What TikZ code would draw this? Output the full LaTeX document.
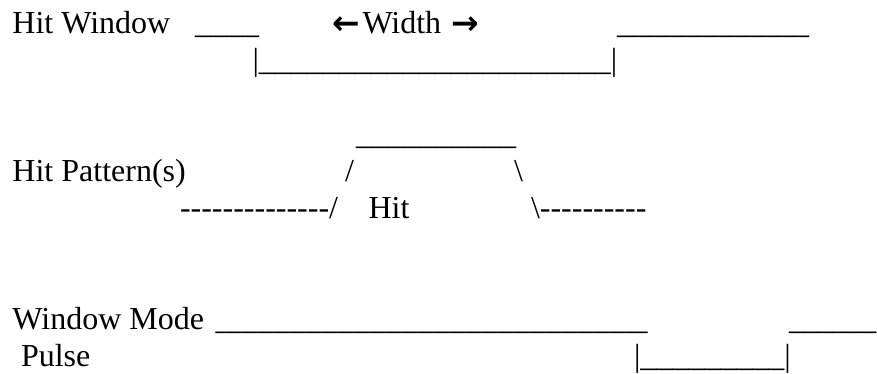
\documentclass[tikz,border=0pt]{standalone}
\usepackage{fontspec}
\setmainfont{Liberation Serif}
\newfontfamily\arrowfont{DejaVu Sans}
% repeat a glyph n times (braces keep hyphens from forming dashes)
\newcommand\reps[2]{\foreach\k in {1,...,#1}{#2}}
\begin{document}
\begin{tikzpicture}[x=1pt,y=-1pt,
  txt/.style={anchor=base west,inner sep=0pt,outer sep=0pt,
    font=\fontsize{32}{36.8}\selectfont},
  arr/.style={txt,font=\fontsize{33}{36.8}\arrowfont\bfseries}]
\useasboundingbox (0,0) rectangle (877,373);
% --- hit window row ---
\node[txt] (hitwin)  at (12.5,33) {Hit Window};
\node[txt] (winlowA) at (195,33)  {\reps{4}{\_}};
\node[arr] (larrow)  at (332,34) {←};
\node[txt] (widthtx) at (362.5,33) {Width};
\node[arr] (rarrow)  at (451.5,34) {→};
\node[txt] (winlowB) at (617,33)  {\reps{12}{\_}};
\node[txt] (winopen) at (252.5,70) {|\reps{22}{\_}|};
% --- hit pattern row ---
\node[txt] (hittop)  at (356,144) {\reps{10}{\_}};
\node[txt] (hitpat)  at (12.5,181) {Hit Pattern(s)};
\node[txt] (riseA)   at (345,181) {/};
\node[txt] (fallA)   at (514,181) {\textbackslash};
\node[txt] (baseL)   at (180,218) {\reps{14}{{-}}/};
\node[txt] (hitlbl)  at (368.5,218) {Hit};
\node[txt] (baseR)   at (531,218) {\textbackslash\reps{10}{{-}}};
% --- window mode pulse row ---
\node[txt] (wmode)   at (12.5,329) {Window Mode};
\node[txt] (pulseA)  at (215.5,329) {\reps{27}{\_}};
\node[txt] (pulseB)  at (789,329) {\scalebox{0.91}[1]{\reps{6}{\_}}};
\node[txt] (pulselb) at (21,366) {Pulse};
\node[txt] (pulsedn) at (634,366) {|\reps{9}{\_}|};
\end{tikzpicture}
\end{document}
